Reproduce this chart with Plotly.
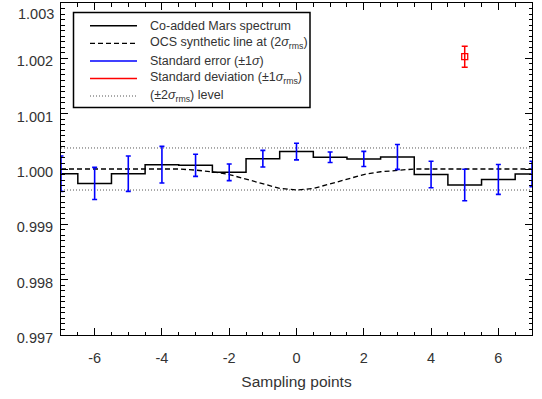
import plotly.graph_objects as go

# ---------------- data ----------------
sample_x = [-7, -6, -5, -4, -3, -2, -1, 0, 1, 2, 3, 4, 5, 6, 7]
spectrum = [0.999915, 0.99974, 0.999915, 1.000078, 1.000067, 0.99994, 1.000187,
            1.000315, 1.000212, 1.000182, 1.000218, 0.999900, 0.99971, 0.999812, 0.999909]
std_err = [0.00032, 0.00029, 0.00032, 0.00033, 0.00020, 0.00015, 0.00015,
           0.00015, 0.000094, 0.000136, 0.000224, 0.00024, 0.000285, 0.00027, 0.00023]

model_x = [-7, -6.5, -6, -5.5, -5, -4.5, -4, -3.5, -3, -2.5, -2, -1.5, -1, -0.5, 0,
           0.5, 1, 1.5, 2, 2.5, 3, 3.5, 4, 4.5, 5, 5.5, 6, 6.5, 7]
ocs_line = [1.0, 1.0, 1.0, 1.0, 1.0, 1.0, 1.0, 1.0, 0.99998, 0.99995, 0.99990, 0.99982,
            0.99973, 0.99965, 0.99962, 0.99965, 0.99973, 0.99982, 0.99990, 0.99995,
            0.99998, 1.0, 1.0, 1.0, 1.0, 1.0, 1.0, 1.0, 1.0]

level_x = [-7, 7]
upper_level = [1.00038, 1.00038]
lower_level = [0.99962, 0.99962]

std_dev_x = [5]
std_dev_y = [1.00203]
std_dev_err = [0.00019]

x_ticks = [-6, -4, -2, 0, 2, 4, 6]
x_tick_labels = ["-6", "-4", "-2", "0", "2", "4", "6"]
y_ticks = [0.997, 0.998, 0.999, 1.000, 1.001, 1.002, 1.003]
y_tick_labels = ["0.997", "0.998", "0.999", "1.000", "1.001", "1.002", ""]
y_top_label = "1.003"

legend_labels = [
    "Co-added Mars spectrum",
    "OCS synthetic line at (2<i>σ</i><sub>rms</sub>)",
    "Standard error (±1<i>σ</i>)",
    "Standard deviation (±1<i>σ</i><sub>rms</sub>)",
    "(±2<i>σ</i><sub>rms</sub>) level",
]

# ---------------- layout geometry ----------------
W, H = 542, 399
ML, MR, MT, MB = 61, 10, 3, 64
PW, PH = W - ML - MR, H - MT - MB
FONT = "Liberation Sans, Arial, Helvetica, sans-serif"
TXT = "#333333"


def px2paper(px, py):
    return (px - ML) / PW, 1 - (py - MT) / PH


fig = go.Figure()

# dotted +-2 sigma levels
for lv in (upper_level, lower_level):
    fig.add_trace(go.Scatter(x=level_x, y=lv, mode="lines",
                             line=dict(color="#555555", width=1, dash="1px,2px"),
                             showlegend=False, hoverinfo="skip"))

# OCS synthetic line
fig.add_trace(go.Scatter(x=model_x, y=ocs_line, mode="lines",
                         line=dict(color="black", width=1.3, dash="5px,3px"),
                         showlegend=False))

# co-added spectrum (histogram style)
fig.add_trace(go.Scatter(x=sample_x, y=spectrum, mode="lines",
                         line=dict(color="black", width=1.5, shape="hvh"),
                         showlegend=False))

# standard errors
fig.add_trace(go.Scatter(x=sample_x, y=spectrum, mode="markers",
                         marker=dict(size=1, color="rgba(0,0,0,0)"),
                         error_y=dict(type="data", array=std_err, visible=True,
                                      color="blue", thickness=1.6, width=2.5),
                         cliponaxis=False, showlegend=False))

# standard deviation point
fig.add_trace(go.Scatter(x=std_dev_x, y=std_dev_y, mode="markers",
                         marker=dict(symbol="square-open", size=6, color="red",
                                     line=dict(width=1.3, color="red")),
                         error_y=dict(type="data", array=std_dev_err, visible=True,
                                      color="red", thickness=1.5, width=3),
                         showlegend=False))

# ---------------- manual legend ----------------
shapes = []
annotations = []
bx0, by0 = px2paper(73.5, 12.5)
bx1, by1 = px2paper(310, 107.5)
shapes.append(dict(type="rect", xref="paper", yref="paper", x0=bx0, y0=by0, x1=bx1, y1=by1,
                   line=dict(color="black", width=1.5), fillcolor="white", layer="above"))
row_y = [25.7, 43.3, 61.0, 78.5, 96.0]
styles = [
    dict(color="black", width=1.5, dash="solid"),
    dict(color="black", width=1.3, dash="5px,3px"),
    dict(color="blue", width=1.5, dash="solid"),
    dict(color="red", width=1.5, dash="solid"),
    dict(color="#555555", width=1, dash="1px,2px"),
]
for ry, st, lab in zip(row_y, styles, legend_labels):
    lx0, ly = px2paper(90, ry)
    lx1, _ = px2paper(137, ry)
    shapes.append(dict(type="line", xref="paper", yref="paper", x0=lx0, x1=lx1, y0=ly, y1=ly,
                       line=st, layer="above"))
    tx, _ = px2paper(148, ry)
    annotations.append(dict(xref="paper", yref="paper", x=tx, y=ly, text=lab, showarrow=False,
                            xanchor="left", yanchor="middle",
                            font=dict(family=FONT, size=12.5, color=TXT)))

# top y label (kept inside the page like the reference)
annotations.append(dict(xref="paper", yref="paper", x=0, y=1, xshift=-5, yshift=-1,
                        text=y_top_label, showarrow=False, xanchor="right", yanchor="top",
                        font=dict(family=FONT, size=14.5, color=TXT)))

axis_common = dict(showline=True, linecolor="black", linewidth=1, mirror="allticks",
                   ticks="inside", tickcolor="black", showgrid=False, zeroline=False,
                   automargin=False,
                   tickfont=dict(family=FONT, size=14.5, color=TXT))

fig.update_layout(
    width=W, height=H,
    margin=dict(l=ML, r=MR, t=MT, b=MB),
    paper_bgcolor="white", plot_bgcolor="white",
    showlegend=False,
    shapes=shapes, annotations=annotations,
    xaxis=dict(range=[-7, 7], tickvals=x_ticks, ticktext=x_tick_labels, ticklen=7, tickwidth=1,
               minor=dict(dtick=0.5, ticklen=3.5, tickcolor="black", ticks="inside"),
               ticklabelstandoff=10,
               title=dict(text="Sampling points", font=dict(family=FONT, size=15.5, color=TXT),
                          standoff=10),
               **axis_common),
    yaxis=dict(range=[0.9969999, 1.0030001], tickvals=y_ticks, ticktext=y_tick_labels,
               ticklen=7, tickwidth=1,
               minor=dict(dtick=0.0001, ticklen=3.5, tickcolor="black", ticks="inside"),
               ticklabelstandoff=4, ticklabelshift=3,
               **axis_common),
)

fig.write_html("out.html", config={"displayModeBar": False},
               post_script="document.body.style.margin='0';")
